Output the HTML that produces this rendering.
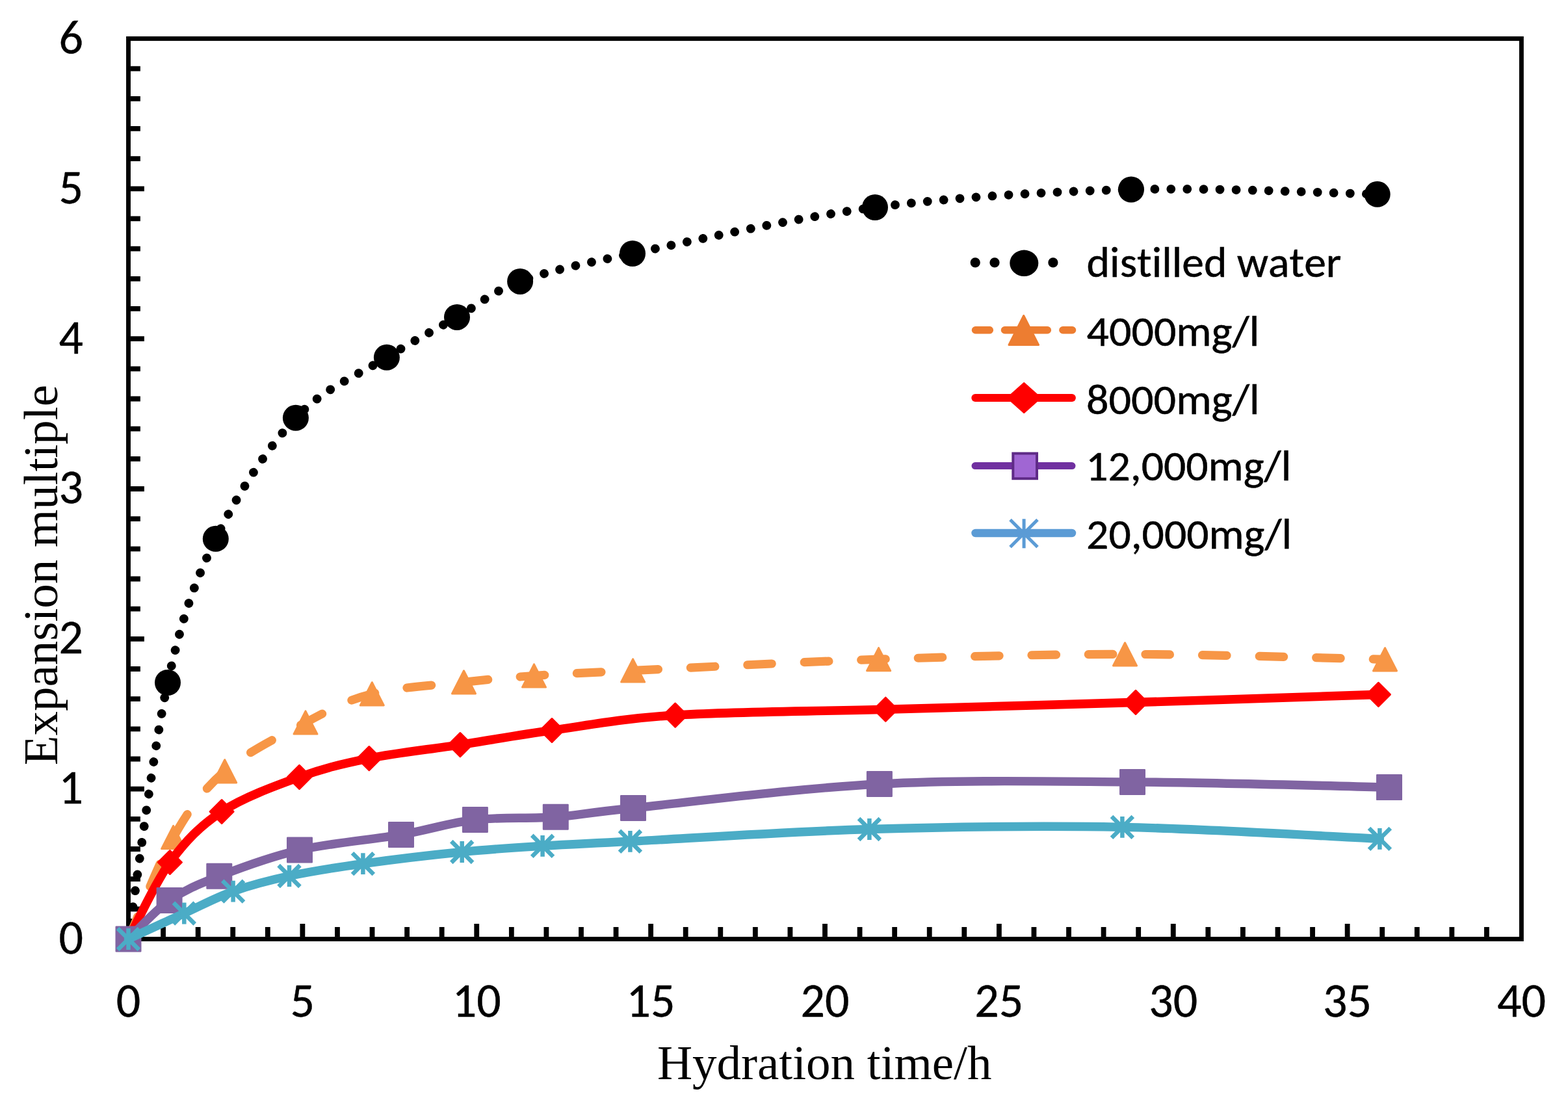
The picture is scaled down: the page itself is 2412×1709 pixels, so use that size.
<!DOCTYPE html>
<html><head><meta charset="utf-8"><title>Expansion multiple vs hydration time</title>
<style>html,body{margin:0;padding:0;background:#fff;}body{width:2412px;height:1709px;overflow:hidden;}svg{display:block;}</style>
</head><body>
<svg width="2412" height="1709" viewBox="0 0 2412 1709">
<rect width="2412" height="1709" fill="#fff"/>
<path d="M200.9,1398.33 h15 M200.9,1352.16 h15 M200.9,1306 h15 M200.9,1259.83 h15 M200.9,1213.66 h21 M200.9,1167.49 h15 M200.9,1121.32 h15 M200.9,1075.16 h15 M200.9,1028.99 h15 M200.9,982.82 h21 M200.9,936.65 h15 M200.9,890.48 h15 M200.9,844.32 h15 M200.9,798.15 h15 M200.9,751.98 h21 M200.9,705.81 h15 M200.9,659.64 h15 M200.9,613.48 h15 M200.9,567.31 h15 M200.9,521.14 h21 M200.9,474.97 h15 M200.9,428.8 h15 M200.9,382.64 h15 M200.9,336.47 h15 M200.9,290.3 h21 M200.9,244.13 h15 M200.9,197.96 h15 M200.9,151.8 h15 M200.9,105.63 h15 M251.07,1441 v-15 M304.65,1441 v-15 M358.23,1441 v-15 M411.8,1441 v-15 M465.38,1441 v-20 M518.95,1441 v-15 M572.53,1441 v-15 M626.1,1441 v-15 M679.67,1441 v-15 M733.25,1441 v-20 M786.83,1441 v-15 M840.4,1441 v-15 M893.98,1441 v-15 M947.55,1441 v-15 M1001.12,1441 v-20 M1054.7,1441 v-15 M1108.28,1441 v-15 M1161.85,1441 v-15 M1215.43,1441 v-15 M1269,1441 v-20 M1322.58,1441 v-15 M1376.15,1441 v-15 M1429.73,1441 v-15 M1483.3,1441 v-15 M1536.88,1441 v-20 M1590.45,1441 v-15 M1644.03,1441 v-15 M1697.6,1441 v-15 M1751.18,1441 v-15 M1804.75,1441 v-20 M1858.33,1441 v-15 M1911.9,1441 v-15 M1965.48,1441 v-15 M2019.05,1441 v-15 M2072.62,1441 v-20 M2126.2,1441 v-15 M2179.78,1441 v-15 M2233.35,1441 v-15 M2286.93,1441 v-15" stroke="#000" stroke-width="7.8" fill="none"/>
<rect x="197.5" y="59.4" width="2142.9" height="1385.1" fill="none" stroke="#000" stroke-width="6.9"/>
<g font-family="Carlito, 'Liberation Sans', sans-serif" font-size="74" fill="#000" stroke="#000" stroke-width="0.4">
<text x="128" y="1467" text-anchor="end">0</text>
<text x="128" y="1236.16" text-anchor="end">1</text>
<text x="128" y="1005.32" text-anchor="end">2</text>
<text x="128" y="774.48" text-anchor="end">3</text>
<text x="128" y="543.64" text-anchor="end">4</text>
<text x="128" y="312.8" text-anchor="end">5</text>
<text x="128" y="81.96" text-anchor="end">6</text>
<text x="197.5" y="1563.8" text-anchor="middle">0</text>
<text x="465.38" y="1563.8" text-anchor="middle">5</text>
<text x="733.25" y="1563.8" text-anchor="middle">10</text>
<text x="1001.12" y="1563.8" text-anchor="middle">15</text>
<text x="1269" y="1563.8" text-anchor="middle">20</text>
<text x="1536.88" y="1563.8" text-anchor="middle">25</text>
<text x="1804.75" y="1563.8" text-anchor="middle">30</text>
<text x="2072.62" y="1563.8" text-anchor="middle">35</text>
<text x="2340.5" y="1563.8" text-anchor="middle">40</text>
</g>
<g font-family="'Liberation Serif', 'Times New Roman', serif" font-size="75" fill="#000">
<text x="1268.2" y="1660.2" text-anchor="middle">Hydration time/h</text>
<text transform="translate(88.1,884.7) rotate(-90)" text-anchor="middle">Expansion multiple</text>
</g>
<path d="M197.5,1444.5 C207.58,1378.75 235.62,1152.62 258,1050 C280.38,947.38 298.98,896.67 331.8,828.8 C364.62,760.93 411.05,689.3 454.9,642.8 C498.75,596.3 553.55,575.62 594.9,549.8 C636.25,523.98 668.8,507.38 703,487.9 C737.2,468.42 755.1,449.22 800.1,432.9 C845.1,416.58 882.02,408.98 973,390 C1063.98,371.02 1218.17,335.42 1346,319 C1473.83,302.58 1611.22,294.87 1740,291.5 C1868.78,288.13 2055.58,297.58 2118.7,298.8" stroke="#000000" stroke-width="13.8" fill="none" stroke-linecap="round" stroke-dasharray="0.01 25.01"/>
<circle cx="258" cy="1050" r="20" fill="#000"/>
<circle cx="331.8" cy="828.8" r="20" fill="#000"/>
<circle cx="454.9" cy="642.8" r="20" fill="#000"/>
<circle cx="594.9" cy="549.8" r="20" fill="#000"/>
<circle cx="703" cy="487.9" r="20" fill="#000"/>
<circle cx="800.1" cy="432.9" r="20" fill="#000"/>
<circle cx="973" cy="390" r="20" fill="#000"/>
<circle cx="1346" cy="319" r="20" fill="#000"/>
<circle cx="1740" cy="291.5" r="20" fill="#000"/>
<circle cx="2118.7" cy="298.8" r="20" fill="#000"/>
<path d="M197.5,1444.5 C209.02,1418.42 241.9,1331.03 266.6,1288 C291.3,1244.97 311.8,1215.72 345.7,1186.3 C379.6,1156.88 432.23,1131.33 470,1111.5 C507.77,1091.67 531.72,1077.65 572.3,1067.3 C612.88,1056.95 671.97,1054.03 713.5,1049.4 C755.03,1044.77 778.15,1042.48 821.5,1039.5 C864.85,1036.52 885.25,1035.72 973.6,1031.5 C1061.95,1027.28 1225.45,1018.38 1351.6,1014.2 C1477.75,1010.02 1600.68,1006.38 1730.5,1006.4 C1860.32,1006.42 2063.83,1012.98 2130.5,1014.3" stroke="#F79646" stroke-width="13.2" fill="none" stroke-linecap="round" stroke-dasharray="37.5 50"/>
<polygon points="197.5,1426.9 215.5,1462.1 179.5,1462.1" fill="#F79646" stroke="#F79646" stroke-width="3" stroke-linejoin="round"/>
<polygon points="266.6,1270.4 284.6,1305.6 248.6,1305.6" fill="#F79646" stroke="#F79646" stroke-width="3" stroke-linejoin="round"/>
<polygon points="345.7,1168.7 363.7,1203.9 327.7,1203.9" fill="#F79646" stroke="#F79646" stroke-width="3" stroke-linejoin="round"/>
<polygon points="470,1093.9 488,1129.1 452,1129.1" fill="#F79646" stroke="#F79646" stroke-width="3" stroke-linejoin="round"/>
<polygon points="572.3,1049.7 590.3,1084.9 554.3,1084.9" fill="#F79646" stroke="#F79646" stroke-width="3" stroke-linejoin="round"/>
<polygon points="713.5,1031.8 731.5,1067 695.5,1067" fill="#F79646" stroke="#F79646" stroke-width="3" stroke-linejoin="round"/>
<polygon points="821.5,1021.9 839.5,1057.1 803.5,1057.1" fill="#F79646" stroke="#F79646" stroke-width="3" stroke-linejoin="round"/>
<polygon points="973.6,1013.9 991.6,1049.1 955.6,1049.1" fill="#F79646" stroke="#F79646" stroke-width="3" stroke-linejoin="round"/>
<polygon points="1351.6,996.6 1369.6,1031.8 1333.6,1031.8" fill="#F79646" stroke="#F79646" stroke-width="3" stroke-linejoin="round"/>
<polygon points="1730.5,988.8 1748.5,1024 1712.5,1024" fill="#F79646" stroke="#F79646" stroke-width="3" stroke-linejoin="round"/>
<polygon points="2130.5,996.7 2148.5,1031.9 2112.5,1031.9" fill="#F79646" stroke="#F79646" stroke-width="3" stroke-linejoin="round"/>
<path d="M197.5,1444.5 C208.15,1424.83 237.47,1359.17 261.4,1326.5 C285.33,1293.83 307.92,1270.35 341.1,1248.5 C374.28,1226.65 422.72,1209.05 460.5,1195.4 C498.28,1181.75 526.57,1174.9 567.8,1166.6 C609.03,1158.3 661.03,1152.78 707.9,1145.6 C754.77,1138.42 793.87,1131.08 849,1123.5 C904.13,1115.92 953.15,1105.48 1038.7,1100.1 C1124.25,1094.72 1244.25,1094.48 1362.3,1091.2 C1480.35,1087.92 1620.65,1084.2 1747,1080.4 C1873.35,1076.6 2058.17,1070.4 2120.4,1068.4" stroke="#FF0000" stroke-width="13.6" fill="none" stroke-linecap="round" stroke-linejoin="round"/>
<polygon points="197.5,1426.5 215.5,1444.5 197.5,1462.5 179.5,1444.5" fill="#FF0000" stroke="#FF0000" stroke-width="3" stroke-linejoin="round"/>
<polygon points="261.4,1308.5 279.4,1326.5 261.4,1344.5 243.4,1326.5" fill="#FF0000" stroke="#FF0000" stroke-width="3" stroke-linejoin="round"/>
<polygon points="341.1,1230.5 359.1,1248.5 341.1,1266.5 323.1,1248.5" fill="#FF0000" stroke="#FF0000" stroke-width="3" stroke-linejoin="round"/>
<polygon points="460.5,1177.4 478.5,1195.4 460.5,1213.4 442.5,1195.4" fill="#FF0000" stroke="#FF0000" stroke-width="3" stroke-linejoin="round"/>
<polygon points="567.8,1148.6 585.8,1166.6 567.8,1184.6 549.8,1166.6" fill="#FF0000" stroke="#FF0000" stroke-width="3" stroke-linejoin="round"/>
<polygon points="707.9,1127.6 725.9,1145.6 707.9,1163.6 689.9,1145.6" fill="#FF0000" stroke="#FF0000" stroke-width="3" stroke-linejoin="round"/>
<polygon points="849,1105.5 867,1123.5 849,1141.5 831,1123.5" fill="#FF0000" stroke="#FF0000" stroke-width="3" stroke-linejoin="round"/>
<polygon points="1038.7,1082.1 1056.7,1100.1 1038.7,1118.1 1020.7,1100.1" fill="#FF0000" stroke="#FF0000" stroke-width="3" stroke-linejoin="round"/>
<polygon points="1362.3,1073.2 1380.3,1091.2 1362.3,1109.2 1344.3,1091.2" fill="#FF0000" stroke="#FF0000" stroke-width="3" stroke-linejoin="round"/>
<polygon points="1747,1062.4 1765,1080.4 1747,1098.4 1729,1080.4" fill="#FF0000" stroke="#FF0000" stroke-width="3" stroke-linejoin="round"/>
<polygon points="2120.4,1050.4 2138.4,1068.4 2120.4,1086.4 2102.4,1068.4" fill="#FF0000" stroke="#FF0000" stroke-width="3" stroke-linejoin="round"/>
<path d="M197.5,1444.5 C208.02,1434.6 237.3,1401.23 260.6,1385.1 C283.9,1368.97 303.9,1360.63 337.3,1347.7 C370.7,1334.77 414.38,1318.13 461,1307.5 C507.62,1296.87 572.02,1291.65 617,1283.9 C661.98,1276.15 691.27,1265.52 730.9,1261 C770.53,1256.48 814.28,1259.8 854.8,1256.8 C895.32,1253.8 890.98,1251.47 974,1243 C1057.02,1234.53 1224.9,1212.68 1352.9,1206 C1480.9,1199.32 1611.32,1202.05 1742,1202.9 C1872.68,1203.75 2071.17,1209.73 2137,1211.1" stroke="#8064A2" stroke-width="13.4" fill="none" stroke-linecap="round" stroke-linejoin="round"/>
<rect x="178.7" y="1425.7" width="37.6" height="37.6" fill="#8064A2" stroke="#8064A2" stroke-width="2.4" stroke-linejoin="round"/>
<rect x="241.8" y="1366.3" width="37.6" height="37.6" fill="#8064A2" stroke="#8064A2" stroke-width="2.4" stroke-linejoin="round"/>
<rect x="318.5" y="1328.9" width="37.6" height="37.6" fill="#8064A2" stroke="#8064A2" stroke-width="2.4" stroke-linejoin="round"/>
<rect x="442.2" y="1288.7" width="37.6" height="37.6" fill="#8064A2" stroke="#8064A2" stroke-width="2.4" stroke-linejoin="round"/>
<rect x="598.2" y="1265.1" width="37.6" height="37.6" fill="#8064A2" stroke="#8064A2" stroke-width="2.4" stroke-linejoin="round"/>
<rect x="712.1" y="1242.2" width="37.6" height="37.6" fill="#8064A2" stroke="#8064A2" stroke-width="2.4" stroke-linejoin="round"/>
<rect x="836" y="1238" width="37.6" height="37.6" fill="#8064A2" stroke="#8064A2" stroke-width="2.4" stroke-linejoin="round"/>
<rect x="955.2" y="1224.2" width="37.6" height="37.6" fill="#8064A2" stroke="#8064A2" stroke-width="2.4" stroke-linejoin="round"/>
<rect x="1334.1" y="1187.2" width="37.6" height="37.6" fill="#8064A2" stroke="#8064A2" stroke-width="2.4" stroke-linejoin="round"/>
<rect x="1723.2" y="1184.1" width="37.6" height="37.6" fill="#8064A2" stroke="#8064A2" stroke-width="2.4" stroke-linejoin="round"/>
<rect x="2118.2" y="1192.3" width="37.6" height="37.6" fill="#8064A2" stroke="#8064A2" stroke-width="2.4" stroke-linejoin="round"/>
<path d="M197.5,1444.5 C211.8,1437.92 256.45,1417.23 283.3,1405 C310.15,1392.77 331.65,1380.68 358.6,1371.1 C385.55,1361.52 411.7,1354.58 445,1347.5 C478.3,1340.42 514.12,1334.77 558.4,1328.6 C602.68,1322.43 664.67,1315.05 710.7,1310.5 C756.73,1305.95 791.48,1304 834.6,1301.3 C877.72,1298.6 885.6,1298.6 969.4,1294.3 C1053.2,1290 1211.23,1279.15 1337.4,1275.5 C1463.57,1271.85 1595.57,1269.92 1726.4,1272.4 C1857.23,1274.88 2056.4,1287.4 2122.4,1290.4" stroke="#4BACC6" stroke-width="13.4" fill="none" stroke-linecap="round" stroke-linejoin="round"/>
<path d="M197.5,1428.1 v32.8 M181.1,1428.1 l32.8,32.8 M181.1,1460.9 l32.8,-32.8" stroke="#4BACC6" stroke-width="6.5" fill="none"/>
<path d="M283.3,1388.6 v32.8 M266.9,1388.6 l32.8,32.8 M266.9,1421.4 l32.8,-32.8" stroke="#4BACC6" stroke-width="6.5" fill="none"/>
<path d="M358.6,1354.7 v32.8 M342.2,1354.7 l32.8,32.8 M342.2,1387.5 l32.8,-32.8" stroke="#4BACC6" stroke-width="6.5" fill="none"/>
<path d="M445,1331.1 v32.8 M428.6,1331.1 l32.8,32.8 M428.6,1363.9 l32.8,-32.8" stroke="#4BACC6" stroke-width="6.5" fill="none"/>
<path d="M558.4,1312.2 v32.8 M542,1312.2 l32.8,32.8 M542,1345 l32.8,-32.8" stroke="#4BACC6" stroke-width="6.5" fill="none"/>
<path d="M710.7,1294.1 v32.8 M694.3,1294.1 l32.8,32.8 M694.3,1326.9 l32.8,-32.8" stroke="#4BACC6" stroke-width="6.5" fill="none"/>
<path d="M834.6,1284.9 v32.8 M818.2,1284.9 l32.8,32.8 M818.2,1317.7 l32.8,-32.8" stroke="#4BACC6" stroke-width="6.5" fill="none"/>
<path d="M969.4,1277.9 v32.8 M953,1277.9 l32.8,32.8 M953,1310.7 l32.8,-32.8" stroke="#4BACC6" stroke-width="6.5" fill="none"/>
<path d="M1337.4,1259.1 v32.8 M1321,1259.1 l32.8,32.8 M1321,1291.9 l32.8,-32.8" stroke="#4BACC6" stroke-width="6.5" fill="none"/>
<path d="M1726.4,1256 v32.8 M1710,1256 l32.8,32.8 M1710,1288.8 l32.8,-32.8" stroke="#4BACC6" stroke-width="6.5" fill="none"/>
<path d="M2122.4,1274 v32.8 M2106,1274 l32.8,32.8 M2106,1306.8 l32.8,-32.8" stroke="#4BACC6" stroke-width="6.5" fill="none"/>
<circle cx="1500.2" cy="403.9" r="7.6" fill="#000"/>
<circle cx="1530" cy="403.9" r="7.6" fill="#000"/>
<circle cx="1619.9" cy="403.9" r="7.6" fill="#000"/>
<ellipse cx="1575.3" cy="404.8" rx="22" ry="20.2" fill="#000"/>
<path d="M1500.5,507.8 H1522.3 M1545.5,507.8 H1611.3 M1634.9,507.8 H1649.5" stroke="#ED7D31" stroke-width="11.5" stroke-linecap="round"/>
<polygon points="1574.7,485.5 1597.5,530.5 1552,530.5" fill="#ED7D31" stroke="#ED7D31" stroke-width="3" stroke-linejoin="round"/>
<path d="M1500.2,612 H1649" stroke="#FF0000" stroke-width="11.8" stroke-linecap="round"/>
<polygon points="1575.2,589 1601,612 1575.2,635 1549.4,612" fill="#FF0000" stroke="#FF0000" stroke-width="2" stroke-linejoin="round"/>
<path d="M1500,716.6 H1649" stroke="#7030A0" stroke-width="11" stroke-linecap="round"/>
<rect x="1558.3" y="697.5" width="36.7" height="38.7" fill="#A066D3" stroke="#5F2B87" stroke-width="4"/>
<path d="M1500.5,820 H1649" stroke="#5B9BD5" stroke-width="12.5" stroke-linecap="round"/>
<path d="M1575.1,798.2 V843.2 M1554,799.5 L1596,841.5 M1554,841.5 L1596,799.5" stroke="#5B9BD5" stroke-width="5" fill="none"/>
<g font-family="Carlito, 'Liberation Sans', sans-serif" font-size="66" fill="#000" stroke="#000" stroke-width="0.5" style="font-variant-ligatures:none;font-kerning:none">
<text x="1671.6" y="426.1" textLength="391.8" lengthAdjust="spacingAndGlyphs">distilled water</text>
<text x="1671.6" y="531.7" textLength="265.8" lengthAdjust="spacingAndGlyphs">4000mg/l</text>
<text x="1670.9" y="636.8" textLength="266.8" lengthAdjust="spacingAndGlyphs">8000mg/l</text>
<text x="1670.2" y="739.1" textLength="316" lengthAdjust="spacingAndGlyphs">12,000mg/l</text>
<text x="1671.1" y="844.3" textLength="316" lengthAdjust="spacingAndGlyphs">20,000mg/l</text>
</g>
</svg>
</body></html>
